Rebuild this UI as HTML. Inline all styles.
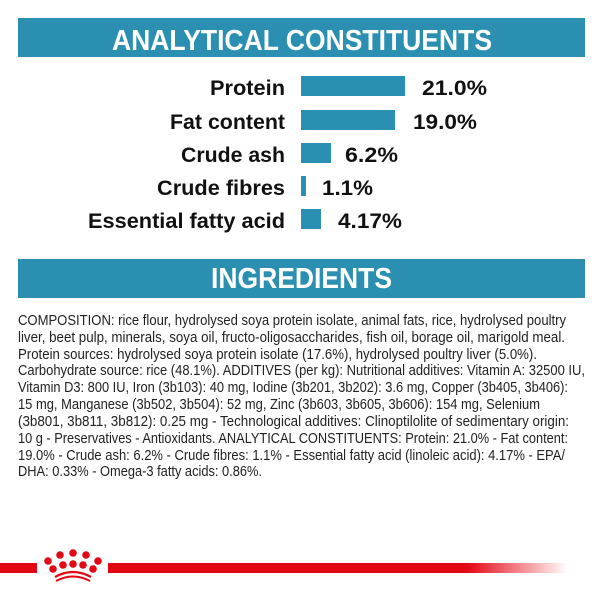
<!DOCTYPE html>
<html><head><meta charset="utf-8"><style>
html,body{margin:0;padding:0;background:#fff;}
svg{display:block}
</style></head><body>
<svg width="600" height="600" viewBox="0 0 600 600" xmlns="http://www.w3.org/2000/svg">
<defs>
<linearGradient id="fade" x1="0" x2="1" y1="0" y2="0">
<stop offset="0" stop-color="#e30613"/>
<stop offset="0.78" stop-color="#e30613"/>
<stop offset="1" stop-color="#e30613" stop-opacity="0"/>
</linearGradient>
</defs>
<rect x="18" y="18" width="567" height="39" fill="#2a8fb0"/>
<text x="112" y="50" font-family="Liberation Sans, sans-serif" font-weight="bold" font-size="29" fill="#fff" textLength="380" lengthAdjust="spacingAndGlyphs">ANALYTICAL CONSTITUENTS</text>
<g font-family="Liberation Sans, sans-serif" font-weight="bold" font-size="21" fill="#111">
<text x="210" y="95" textLength="75" lengthAdjust="spacingAndGlyphs">Protein</text>
<text x="170" y="129" textLength="115" lengthAdjust="spacingAndGlyphs">Fat content</text>
<text x="181" y="162" textLength="104" lengthAdjust="spacingAndGlyphs">Crude ash</text>
<text x="157" y="195" textLength="128" lengthAdjust="spacingAndGlyphs">Crude fibres</text>
<text x="88" y="228" textLength="197" lengthAdjust="spacingAndGlyphs">Essential fatty acid</text>
<text x="422" y="95" textLength="65" lengthAdjust="spacingAndGlyphs">21.0%</text>
<text x="413" y="129" textLength="64" lengthAdjust="spacingAndGlyphs">19.0%</text>
<text x="345" y="162" textLength="53" lengthAdjust="spacingAndGlyphs">6.2%</text>
<text x="322" y="195" textLength="51" lengthAdjust="spacingAndGlyphs">1.1%</text>
<text x="338" y="228" textLength="64" lengthAdjust="spacingAndGlyphs">4.17%</text>
</g>
<g fill="#2990b4">
<rect x="301" y="76" width="104" height="20"/>
<rect x="301" y="110" width="94" height="20"/>
<rect x="301" y="143" width="30" height="20"/>
<rect x="301" y="176" width="5" height="20"/>
<rect x="301" y="209" width="20" height="20"/>
</g>
<rect x="18" y="259" width="567" height="39" fill="#2a8fb0"/>
<text x="211" y="288" font-family="Liberation Sans, sans-serif" font-weight="bold" font-size="29" fill="#fff" textLength="181" lengthAdjust="spacingAndGlyphs">INGREDIENTS</text>
<g font-family="Liberation Sans, sans-serif" font-size="14.5" fill="#222">
<text x="18" y="325" textLength="548" lengthAdjust="spacingAndGlyphs">COMPOSITION: rice flour, hydrolysed soya protein isolate, animal fats, rice, hydrolysed poultry</text>
<text x="18" y="342" textLength="547" lengthAdjust="spacingAndGlyphs">liver, beet pulp, minerals, soya oil, fructo-oligosaccharides, fish oil, borage oil, marigold meal.</text>
<text x="18" y="359" textLength="519" lengthAdjust="spacingAndGlyphs">Protein sources: hydrolysed soya protein isolate (17.6%), hydrolysed poultry liver (5.0%).</text>
<text x="18" y="375" textLength="567" lengthAdjust="spacingAndGlyphs">Carbohydrate source: rice (48.1%). ADDITIVES (per kg): Nutritional additives: Vitamin A: 32500 IU,</text>
<text x="18" y="392" textLength="550" lengthAdjust="spacingAndGlyphs">Vitamin D3: 800 IU, Iron (3b103): 40 mg, Iodine (3b201, 3b202): 3.6 mg, Copper (3b405, 3b406):</text>
<text x="18" y="409" textLength="522" lengthAdjust="spacingAndGlyphs">15 mg, Manganese (3b502, 3b504): 52 mg, Zinc (3b603, 3b605, 3b606): 154 mg, Selenium</text>
<text x="18" y="426" textLength="551" lengthAdjust="spacingAndGlyphs">(3b801, 3b811, 3b812): 0.25 mg - Technological additives: Clinoptilolite of sedimentary origin:</text>
<text x="18" y="443" textLength="550" lengthAdjust="spacingAndGlyphs">10 g - Preservatives - Antioxidants. ANALYTICAL CONSTITUENTS: Protein: 21.0% - Fat content:</text>
<text x="18" y="460" textLength="547" lengthAdjust="spacingAndGlyphs">19.0% - Crude ash: 6.2% - Crude fibres: 1.1% - Essential fatty acid (linoleic acid): 4.17% - EPA/</text>
<text x="18" y="476" textLength="244" lengthAdjust="spacingAndGlyphs">DHA: 0.33% - Omega-3 fatty acids: 0.86%.</text>
</g>
<rect x="0" y="563" width="37" height="10" fill="#e30613"/>
<rect x="108" y="563" width="460" height="10" fill="url(#fade)"/>
<g fill="#e30613">
<circle cx="48" cy="561" r="3.8"/><circle cx="60" cy="555" r="3.8"/><circle cx="73" cy="553" r="3.8"/><circle cx="86" cy="555" r="3.8"/><circle cx="98" cy="561" r="3.8"/>
<circle cx="53" cy="569" r="3.8"/><circle cx="63" cy="565" r="3.8"/><circle cx="73" cy="564" r="3.8"/><circle cx="83" cy="565" r="3.8"/><circle cx="93" cy="569" r="3.8"/>
</g>
<path d="M55 577 Q73 567 91 577" stroke="#e30613" stroke-width="2.2" fill="none"/>
<path d="M56 581 Q73 572 90 581" stroke="#e30613" stroke-width="2" fill="none"/>
</svg>
</body></html>
